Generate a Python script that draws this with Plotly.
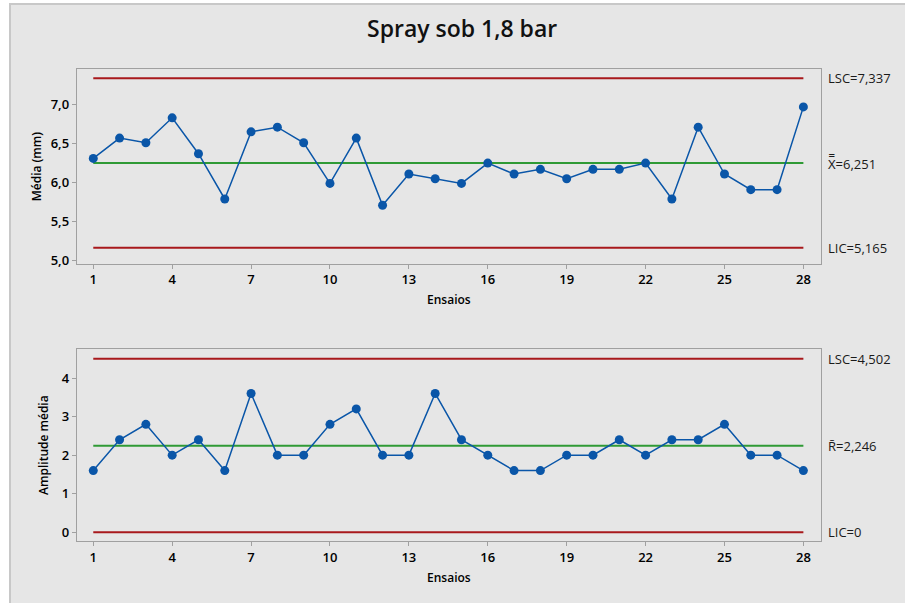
import plotly.graph_objects as go

ensaios = list(range(1, 29))
media = [6.31, 6.57, 6.51, 6.83, 6.37, 5.79, 6.65, 6.71, 6.51, 5.99, 6.57, 5.71, 6.11, 6.05,
         5.99, 6.25, 6.11, 6.17, 6.05, 6.17, 6.17, 6.25, 5.79, 6.71, 6.11, 5.91, 5.91, 6.97]
amplitude = [1.6, 2.4, 2.8, 2.0, 2.4, 1.6, 3.6, 2.0, 2.0, 2.8, 3.2, 2.0, 2.0, 3.6,
             2.4, 2.0, 1.6, 1.6, 2.0, 2.0, 2.4, 2.0, 2.4, 2.4, 2.8, 2.0, 2.0, 1.6]
xbar_lsc, xbar_cl, xbar_lic = 7.337, 6.251, 5.165
r_lsc, r_cl, r_lic = 4.502, 2.246, 0.0
x_ticks = [1, 4, 7, 10, 13, 16, 19, 22, 25, 28]
y1_ticks = [5.0, 5.5, 6.0, 6.5, 7.0]
y1_ticktext = ["5,0", "5,5", "6,0", "6,5", "7,0"]
y2_ticks = [0, 1, 2, 3, 4]
title = "Spray sob 1,8 bar"

RED = "#a8191c"
GREEN = "#2f9a35"
BLUE = "#0a56a8"
FONT = "Open Sans, Noto Sans, sans-serif"

fig = go.Figure()

def add_chart(xa, ya, vals, lsc, cl, lic):
    fig.add_trace(go.Scatter(x=[1, 28], y=[lsc, lsc], mode="lines", line=dict(color=RED, width=2),
                             xaxis=xa, yaxis=ya, hoverinfo="skip"))
    fig.add_trace(go.Scatter(x=[1, 28], y=[lic, lic], mode="lines", line=dict(color=RED, width=2),
                             xaxis=xa, yaxis=ya, hoverinfo="skip"))
    fig.add_trace(go.Scatter(x=[1, 28], y=[cl, cl], mode="lines", line=dict(color=GREEN, width=2),
                             xaxis=xa, yaxis=ya, hoverinfo="skip"))
    fig.add_trace(go.Scatter(x=ensaios, y=vals, mode="lines+markers",
                             line=dict(color=BLUE, width=1.5),
                             marker=dict(color=BLUE, size=9),
                             xaxis=xa, yaxis=ya))

add_chart("x", "y", media, xbar_lsc, xbar_cl, xbar_lic)
add_chart("x2", "y2", amplitude, r_lsc, r_cl, r_lic)

xdom = [76.7 / 905, 821 / 905]
axis_common = dict(showgrid=False, zeroline=False, showline=True, linecolor="#a0a0a0", linewidth=1,
                   mirror=True, ticks="outside", ticklen=4, tickcolor="#a0a0a0",
                   tickfont=dict(family=FONT, size=13, color="#000000", weight=600))
title_font = dict(family=FONT, size=12, color="#000000", weight=600)

fig.update_layout(
    width=905, height=603, margin=dict(l=0, r=0, t=0, b=0),
    paper_bgcolor="white", plot_bgcolor="white", showlegend=False,
    font=dict(family=FONT, color="#1a1a1a"),
    xaxis=dict(domain=xdom, range=[0.37, 28.67], tickvals=x_ticks, anchor="y",
               title=dict(text="Ensaios", font=title_font, standoff=8), **axis_common),
    yaxis=dict(domain=[1 - 266 / 603, 1 - 70 / 603], range=[4.96, 7.45], tickvals=y1_ticks,
               ticktext=y1_ticktext, anchor="x",
               title=dict(text="Média (mm)", font=title_font, standoff=6), **axis_common),
    xaxis2=dict(domain=xdom, range=[0.37, 28.67], tickvals=x_ticks, anchor="y2",
                title=dict(text="Ensaios", font=title_font, standoff=8), **axis_common),
    yaxis2=dict(domain=[1 - 546 / 603, 1 - 351.7 / 603], range=[-0.24, 4.76], tickvals=y2_ticks,
                anchor="x2",
                title=dict(text="Amplitude média", font=title_font, standoff=10), **axis_common),
)

# background panel
fig.add_shape(type="rect", xref="paper", yref="paper", x0=10 / 905, x1=1.01, y0=-0.01, y1=1 - 4 / 603,
              fillcolor="#e6e6e6", line=dict(color="#c8c8c8", width=2), layer="below")

fig.add_annotation(text=title, xref="paper", yref="paper", x=462 / 905, y=1 - 28 / 603,
                   xanchor="center", yanchor="middle", showarrow=False,
                   font=dict(family=FONT, size=23, color="#111111", weight=600))

lab_x = 826 / 905
def lab(text, y, yref):
    fig.add_annotation(text=text, xref="paper", yref=yref, x=lab_x, y=y, xanchor="left",
                       yanchor="middle", showarrow=False, font=dict(family=FONT, size=13, color="#1a1a1a"))

lab("LSC=" + f"{xbar_lsc:.3f}".replace(".", ","), xbar_lsc, "y")
lab("X\u033f=" + f"{xbar_cl:.3f}".replace(".", ","), xbar_cl, "y")
lab("LIC=" + f"{xbar_lic:.3f}".replace(".", ","), xbar_lic, "y")
lab("LSC=" + f"{r_lsc:.3f}".replace(".", ","), r_lsc, "y2")
lab("R\u0304=" + f"{r_cl:.3f}".replace(".", ","), r_cl, "y2")
lab("LIC=0", r_lic, "y2")

fig.write_html("out.html")
